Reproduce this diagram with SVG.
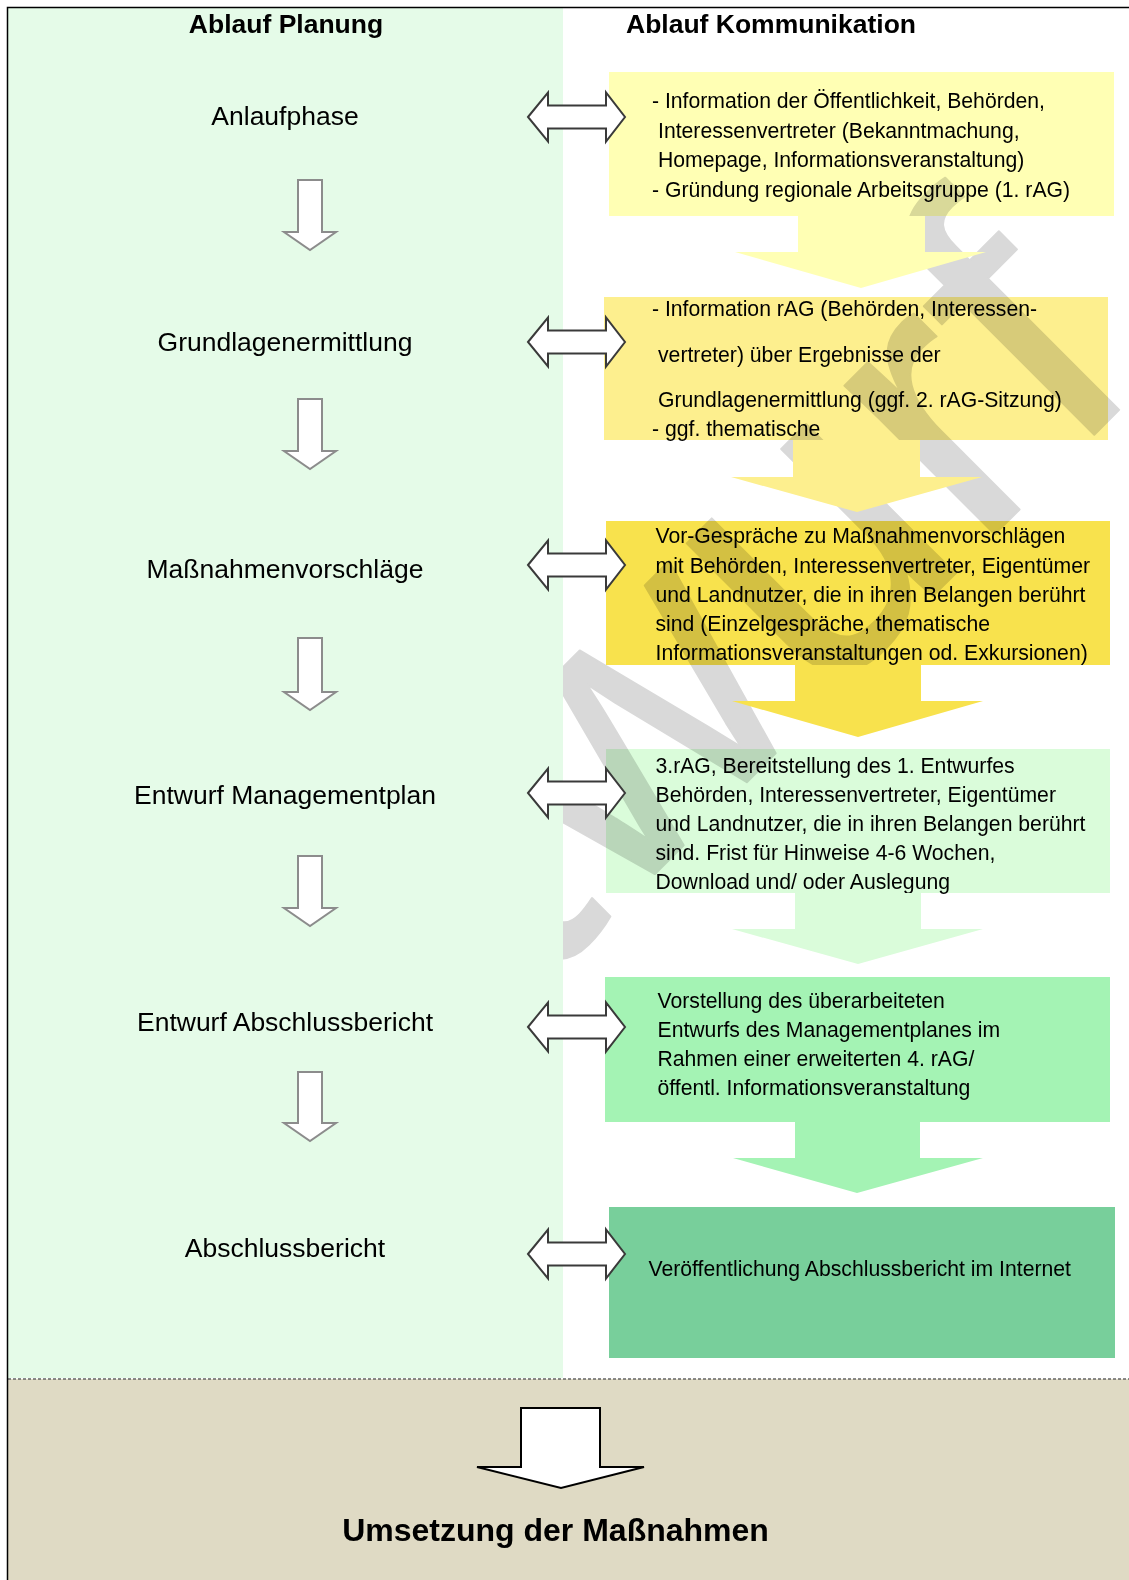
<svg xmlns="http://www.w3.org/2000/svg" width="1129" height="1580" viewBox="0 0 1129 1580">
<style>
text{font-family:"Liberation Sans",Arial,sans-serif;fill:#000}
.hdr{font-size:26.5px;font-weight:bold}
.lbl{font-size:26.5px;text-anchor:middle}
.bt{font-size:21.2px}
.dn{fill:#fff;stroke:#8c8c8c;stroke-width:2}
.dbl{fill:#fff;stroke:#3a3a3a;stroke-width:2}
.wm{font-family:"Liberation Sans",Arial,sans-serif;font-size:400px;fill:#d9d9d9;stroke:#d9d9d9;stroke-width:2;stroke-linejoin:round;mix-blend-mode:multiply}
</style>
<rect x="0" y="0" width="1129" height="1580" fill="#fff"/>

<!-- right column boxes -->
<g id="comm-1">
<rect x="609" y="72" width="505" height="144" fill="#FFFFB4"/>
<text class="bt" x="652" y="108">- Information der Öffentlichkeit, Behörden,</text>
<text class="bt" x="658" y="137.5">Interessenvertreter (Bekanntmachung,</text>
<text class="bt" x="658" y="167">Homepage, Informationsveranstaltung)</text>
<text class="bt" x="652" y="196.5">- Gründung regionale Arbeitsgruppe (1. rAG)</text>
</g>
<g id="comm-2">
<rect x="604" y="297" width="504" height="143" fill="#FDEF8E"/>
<text class="bt" x="652" y="316">- Information rAG (Behörden, Interessen-</text>
<text class="bt" x="658" y="361.5">vertreter) über Ergebnisse der</text>
<text class="bt" x="658" y="406.5">Grundlagenermittlung (ggf. 2. rAG-Sitzung)</text>
<text class="bt" x="652" y="436">- ggf. thematische</text>
</g>
<g id="comm-3">
<rect x="606" y="521" width="504" height="144" fill="#F8E24D"/>
<text class="bt" x="655.5" y="543">Vor-Gespräche zu Maßnahmenvorschlägen</text>
<text class="bt" x="655.5" y="572.5">mit Behörden, Interessenvertreter, Eigentümer</text>
<text class="bt" x="655.5" y="602">und Landnutzer, die in ihren Belangen berührt</text>
<text class="bt" x="655.5" y="631">sind (Einzelgespräche, thematische</text>
<text class="bt" x="655.5" y="660">Informationsveranstaltungen od. Exkursionen)</text>
</g>
<g id="comm-4">
<rect x="606" y="749" width="504" height="144" fill="#DAFCDA"/>
<text class="bt" x="655.5" y="772.5">3.rAG, Bereitstellung des 1. Entwurfes</text>
<text class="bt" x="655.5" y="801.5">Behörden, Interessenvertreter, Eigentümer</text>
<text class="bt" x="655.5" y="831">und Landnutzer, die in ihren Belangen berührt</text>
<text class="bt" x="655.5" y="860">sind. Frist für Hinweise 4-6 Wochen,</text>
<text class="bt" x="655.5" y="889">Download und/ oder Auslegung</text>
</g>
<g id="comm-5">
<rect x="605" y="977" width="505" height="145" fill="#A4F3B4"/>
<text class="bt" x="657.5" y="1007.5">Vorstellung des überarbeiteten</text>
<text class="bt" x="657.5" y="1036.5">Entwurfs des Managementplanes im</text>
<text class="bt" x="657.5" y="1066">Rahmen einer erweiterten 4. rAG/</text>
<text class="bt" x="657.5" y="1095">öffentl. Informationsveranstaltung</text>
</g>
<g id="comm-6">
<rect x="609" y="1207" width="506" height="151" fill="#78CF9B"/>
<text class="bt" x="648.5" y="1276">Veröffentlichung Abschlussbericht im Internet</text>
</g>

<!-- watermark -->
<g id="watermark">
<text class="wm" x="189" y="1340" transform="rotate(-45 189 1340)">Entwurf</text>
</g>

<!-- left panel -->
<rect id="planung-panel" x="8" y="8" width="555" height="1370" fill="#E5FBE8"/>

<g id="header-planung"><text class="hdr" x="286" y="33" text-anchor="middle">Ablauf Planung</text></g>
<g id="header-kommunikation"><text class="hdr" x="626" y="33">Ablauf Kommunikation</text></g>

<g id="phase-1"><text class="lbl" x="285" y="125">Anlaufphase</text></g>
<g id="phase-2"><text class="lbl" x="285" y="351">Grundlagenermittlung</text></g>
<g id="phase-3"><text class="lbl" x="285" y="578">Maßnahmenvorschläge</text></g>
<g id="phase-4"><text class="lbl" x="285" y="804">Entwurf Managementplan</text></g>
<g id="phase-5"><text class="lbl" x="285" y="1031">Entwurf Abschlussbericht</text></g>
<g id="phase-6"><text class="lbl" x="285" y="1257">Abschlussbericht</text></g>

<!-- bottom section -->
<g id="umsetzung">
<rect x="8" y="1379" width="1121" height="201" fill="#DFDAC4"/>
<line x1="8" y1="1379" x2="1129" y2="1379" stroke="#666" stroke-width="1.5" stroke-dasharray="3 2"/>
<text x="555.5" y="1541" text-anchor="middle" font-size="32" font-weight="bold">Umsetzung der Maßnahmen</text>
</g>

<!-- connectors -->
<g id="connectors">
<g id="flow-arrows">
<path d="M798,216 H925 V252 H986 L861,288 L735,252 H798 Z" fill="#FFFFB4"/>
<path d="M793,440 H920 V477 H982 L857,512 L731,477 H793 Z" fill="#FDEF8E"/>
<path d="M795,665 H921 V701 H983 L858,737 L732,701 H795 Z" fill="#F8E24D"/>
<path d="M795,893 H921 V929 H983 L858,964 L732,929 H795 Z" fill="#DAFCDA"/>
<path d="M795,1122 H920 V1158 H983 L857,1193 L733,1158 H795 Z" fill="#A4F3B4"/>
</g>
<g id="down-arrows">
<path class="dn" d="M298,180 H322 V232 H336 L310,250 L284,232 H298 Z"/>
<path class="dn" d="M298,399 H322 V451 H336 L310,469 L284,451 H298 Z"/>
<path class="dn" d="M298,638 H322 V692 H336 L310,710 L284,692 H298 Z"/>
<path class="dn" d="M298,856 H322 V908 H336 L310,926 L284,908 H298 Z"/>
<path class="dn" d="M298,1072 H322 V1123 H336 L310,1141 L284,1123 H298 Z"/>
</g>
<g id="double-arrows">
<path class="dbl" d="M528,117 L548,92.5 V105.5 H606 V92.5 L625,117 L606,141.5 V128.5 H548 V141.5 Z"/>
<path class="dbl" d="M528,342 L548,317.5 V330.5 H606 V317.5 L625,342 L606,366.5 V353.5 H548 V366.5 Z"/>
<path class="dbl" d="M528,565 L548,540.5 V553.5 H606 V540.5 L625,565 L606,589.5 V576.5 H548 V589.5 Z"/>
<path class="dbl" d="M528,793 L548,768.5 V781.5 H606 V768.5 L625,793 L606,817.5 V804.5 H548 V817.5 Z"/>
<path class="dbl" d="M528,1027 L548,1002.5 V1015.5 H606 V1002.5 L625,1027 L606,1051.5 V1038.5 H548 V1051.5 Z"/>
<path class="dbl" d="M528,1254 L548,1229.5 V1242.5 H606 V1229.5 L625,1254 L606,1278.5 V1265.5 H548 V1278.5 Z"/>
</g>
<path id="bottom-arrow" d="M521,1408 H600 V1467 H644 L561,1488 L477,1467 H521 Z" fill="#fff" stroke="#000" stroke-width="2"/>
</g>

<rect x="7.5" y="7.5" width="1130" height="1580" fill="none" stroke="#000" stroke-width="1.5"/>
</svg>
